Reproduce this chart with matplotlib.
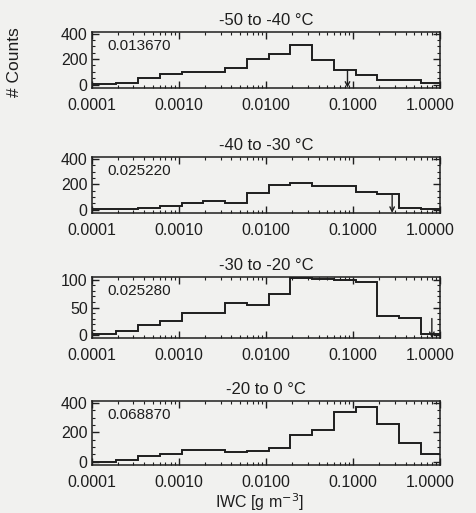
import matplotlib
matplotlib.use('Agg')
import matplotlib.pyplot as plt
import matplotlib.transforms as mtransforms
from matplotlib.ticker import LogLocator, MultipleLocator, FixedFormatter, FixedLocator

plt.rcParams['font.family'] = ['Liberation Sans', 'DejaVu Sans']

# Histogramas de IWC por faixa de temperatura.
bordas = [0.0001, 0.00019, 0.00034, 0.0006, 0.00107, 0.0019, 0.0034, 0.006,
          0.0107, 0.019, 0.034, 0.06, 0.107, 0.19, 0.34, 0.6, 1.0]

faixas = ['-50 to -40 \u00b0C', '-40 to -30 \u00b0C',
          '-30 to -20 \u00b0C', '-20 to 0 \u00b0C']
rotulos = ['0.013670', '0.025220', '0.025280', '0.068870']

cont_50_40 = [8, 16, 48, 81, 95, 102, 129, 202, 243, 309, 195, 116, 76, 36, 32, 9]
cont_40_30 = [6, 6, 12, 32, 51, 67, 51, 133, 192, 214, 185, 185, 143, 122, 16, 5]
cont_30_20 = [3, 8, 19, 25, 40, 41, 58, 55, 74, 103, 102, 100, 96, 35, 31, 3]
cont_20_0 = [2, 12, 38, 54, 82, 82, 67, 75, 97, 180, 213, 340, 372, 255, 125, 50]
contagens = [cont_50_40, cont_40_30, cont_30_20, cont_20_0]

setas = [0.086, 0.28, 0.8, None]

xticks = [0.0001, 0.001, 0.01, 0.1, 1.0]
xticklabels = ['0.0001', '0.0010', '0.0100', '0.1000', '1.0000']

fundo = '#f1f1ef'
cor = '#1e1e1e'

fig = plt.figure(figsize=(4.76, 5.13), dpi=100, facecolor=fundo)

# posicoes [esq, baixo, larg, alt] em fracao da figura
posicoes = [[0.193, 0.829, 0.732, 0.109],
            [0.193, 0.585, 0.732, 0.109],
            [0.193, 0.341, 0.732, 0.119],
            [0.193, 0.094, 0.732, 0.125]]
ylims = [(-25, 415), (-25, 415), (-5, 105), (-20, 415)]

for i in range(4):
    ax = fig.add_axes(posicoes[i])
    ax.set_facecolor(fundo)
    ax.stairs(contagens[i], bordas, color=cor, lw=1.4, baseline=None)
    ax.set_xscale('log')
    ax.set_xlim(0.0001, 1.0)
    ax.set_ylim(*ylims[i])

    ax.xaxis.set_major_locator(FixedLocator(xticks))
    ax.xaxis.set_major_formatter(FixedFormatter(xticklabels))
    ax.xaxis.set_minor_locator(LogLocator(base=10, subs=range(2, 10)))
    ax.xaxis.set_minor_formatter(plt.NullFormatter())

    if i == 2:
        ax.yaxis.set_major_locator(MultipleLocator(50))
        ax.yaxis.set_minor_locator(MultipleLocator(10))
    else:
        ax.yaxis.set_major_locator(MultipleLocator(200))
        ax.yaxis.set_minor_locator(MultipleLocator(50))

    ax.tick_params(which='both', direction='in', top=True, right=True,
                   color=cor, labelsize=11.5, labelcolor=cor)
    ax.tick_params(which='major', length=5, width=1)
    ax.tick_params(which='minor', length=2.5, width=0.8)
    ax.tick_params(axis='x', pad=7.5)
    ax.tick_params(axis='y', pad=3)
    for s in ax.spines.values():
        s.set_color(cor)
        s.set_linewidth(1.1)

    # o ultimo rotulo (1.0000) aparece um pouco deslocado para a esquerda
    desloc = mtransforms.ScaledTranslation(-10 / 100, 0, fig.dpi_scale_trans)
    for lab in ax.get_xticklabels()[-1:]:
        lab.set_transform(lab.get_transform() + desloc)

    ax.set_title(faixas[i], fontsize=12, color=cor, pad=5)
    ax.text(0.045, 0.88, rotulos[i], transform=ax.transAxes, fontsize=11,
            color=cor, va='top', ha='left')

    if setas[i] is not None:
        ax.annotate('', xy=(setas[i], 0.0), xytext=(setas[i], 0.32),
                    xycoords=('data', 'axes fraction'),
                    textcoords=('data', 'axes fraction'),
                    arrowprops=dict(arrowstyle='->', color=cor, lw=1.0,
                                    shrinkA=0, shrinkB=0, mutation_scale=8))

    if i == 0:
        ax.set_ylabel('# Counts', fontsize=12.5, color=cor)
        ax.yaxis.set_label_coords(-0.2, 0.45)

fig.text(0.545, 0.022, 'IWC [g m$^{-3}$]', fontsize=11.5, color=cor,
         ha='center', va='center')

fig.savefig('out.png', dpi=100, facecolor=fundo)
